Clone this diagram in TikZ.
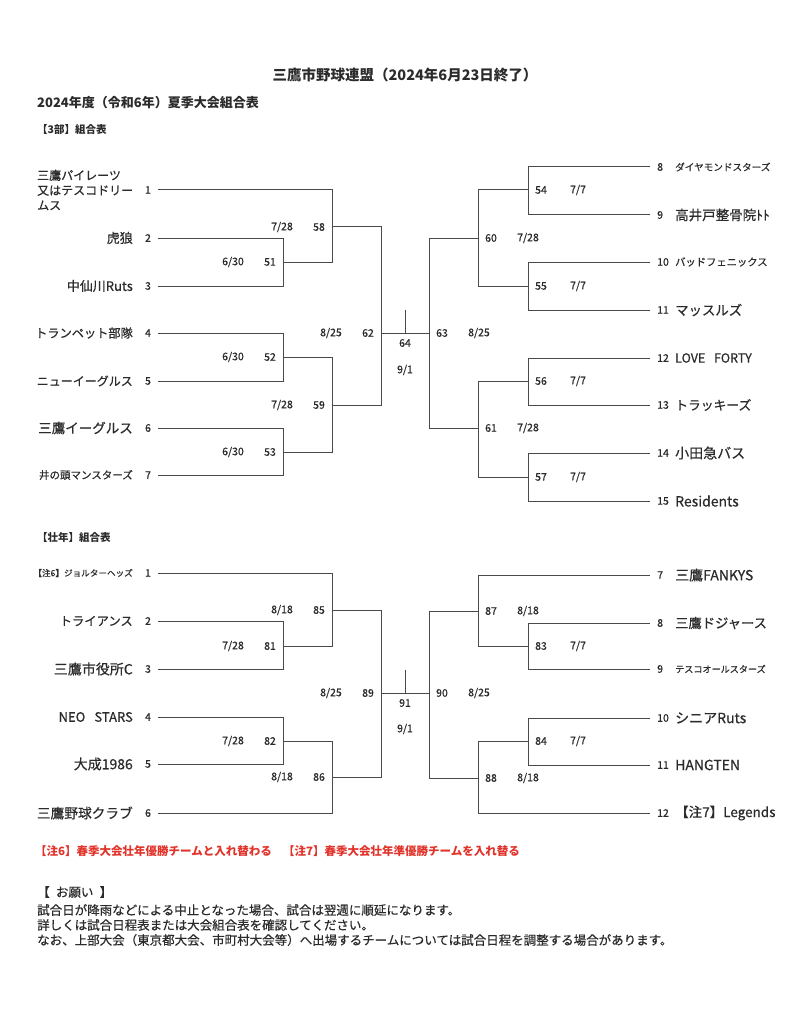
\documentclass[tikz,border=0pt]{standalone}
\usepackage{fontspec}
\setmainfont{Noto Sans CJK JP}
\newfontfamily\medfont{Noto Sans CJK JP}[FakeBold=0.5]
\usetikzlibrary{positioning}

\definecolor{inkgray}{HTML}{2B2B2B}
\definecolor{linegray}{HTML}{4A4A4A}
\definecolor{notered}{HTML}{E2332B}

\tikzset{
    num/.style={font=\medfont\fontsize{10.5}{10.5}\selectfont, inner sep=0pt, text=inkgray},
    lbl/.style={font=\medfont\fontsize{10.5}{10.5}\selectfont, inner sep=0pt, text=inkgray},
    team/.style={inner sep=0pt, text=inkgray},
    bracket/.style={draw=linegray, line width=1pt},
    head/.style={inner sep=0pt, text=inkgray, anchor=west},
}

\begin{document}
\begin{tikzpicture}[x=1pt,y=-1pt]
    \fill[white] (0,0) rectangle (786,1024);
    \useasboundingbox (0,0) rectangle (786,1024);

    % headings
    \node[team, font=\fontsize{14.5}{14.5}\selectfont\bfseries] (title) at (405,75) {三鷹市野球連盟（2024年6月23日終了）};
    \node[head, font=\fontsize{13}{13}\selectfont\bfseries] (season) at (37,103) {2024年度（令和6年）夏季大会組合表};
    \node[head, font=\fontsize{10.5}{10.5}\selectfont\bfseries] (div3) at (37,130) {【3部】組合表};
    \node[head, font=\fontsize{10.5}{10.5}\selectfont\bfseries] (divS) at (37,537) {【壮年】組合表};

    % 3部 left teams
    \node[num] (a1) at (148,190) {1};
    \node[team, anchor=west, align=left, font=\medfont\fontsize{12}{15}\selectfont] (an1) at (37,190) {三鷹パイレーツ\\又はテスコドリー\\ムス};
    \coordinate (at1) at (158,190);
    \foreach \i/\y/\sz/\name in {2/238/13/虎狼, 3/286/13/中仙川Ruts, 4/333/12.2/トランペット部隊,
            5/381/12/ニューイーグルス, 6/428/13.5/三鷹イーグルス, 7/475/10.5/井の頭マンスターズ}{%
        \node[num] (a\i) at (148,\y) {\i};
        \node[team, anchor=east, font=\medfont\fontsize{\sz}{\sz}\selectfont] (an\i) at (133,\y) {\name};
        \coordinate (at\i) at (158,\y);
    }

    % 3部 right teams
    \foreach \i/\y/\sz/\name in {8/167/9.6/ダイヤモンドスターズ, 9/215/13.5/高井戸整骨院ﾄﾄ, 10/262/10.3/バッドフェニックス,
            11/310/13.4/マッスルズ, 12/358/12.5/LOVE\hspace{.7em}FORTY, 13/405/12.8/トラッキーズ,
            14/453/14/小田急バス, 15/501/14/Residents}{%
        \node[num, anchor=west] (b\i) at (657,\y) {\i};
        \node[team, anchor=west, font=\medfont\fontsize{\sz}{\sz}\selectfont] (bn\i) at (675,\y) {\name};
        \coordinate (bt\i) at (650,\y);
    }

    % 壮年 left teams
    \foreach \i/\y/\sz/\name in {1/573/8.6/【注6】ジョルターヘッズ, 2/621/12.3/トライアンス, 3/669/14/三鷹市役所C,
            4/717/13/NEO\hspace{.7em}STARS, 5/764/14/大成1986, 6/813/13.7/三鷹野球クラブ}{%
        \node[num] (c\i) at (148,\y) {\i};
        \node[team, anchor=east, font=\medfont\fontsize{\sz}{\sz}\selectfont] (cn\i) at (133,\y) {\name};
        \coordinate (ct\i) at (158,\y);
    }

    % 壮年 right teams
    \foreach \i/\y/\sz/\name in {7/575/14/三鷹FANKYS, 8/623/13.3/三鷹ドジャース, 9/669/9.1/テスコオールスターズ,
            10/718/14/シニアRuts, 11/765/14/HANGTEN, 12/813/13.5/【注7】Legends}{%
        \node[num, anchor=west] (e\i) at (657,\y) {\i};
        \node[team, anchor=west, font=\medfont\fontsize{\sz}{\sz}\selectfont] (en\i) at (675,\y) {\name};
        \coordinate (et\i) at (650,\y);
    }

    % match points, labels left of the line
    \foreach \m/\x/\y/\d in {51/283/262/{6/30}, 52/283/357/{6/30}, 53/283/452/{6/30},
            58/332/227/{7/28}, 59/332/405/{7/28}, 62/381/333/{8/25},
            81/283/646/{7/28}, 82/283/741/{7/28}, 85/332/610/{8/18},
            86/332/777/{8/18}, 89/381/693/{8/25}}{%
        \coordinate (m\m) at (\x,\y);
        \node[lbl] (l\m) at ([xshift=-13pt]m\m) {\m};
        \node[lbl] (d\m) at ([xshift=-50pt]m\m) {\d};
    }

    % match points, labels right of the line
    \foreach \m/\x/\y/\d in {63/429/333/{8/25}, 60/478/238/{7/28}, 61/478/428/{7/28},
            54/528/190/{7/7}, 55/528/286/{7/7}, 56/528/381/{7/7}, 57/528/477/{7/7},
            90/429/693/{8/25}, 87/478/611/{8/18}, 88/478/778/{8/18},
            83/528/646/{7/7}, 84/528/741/{7/7}}{%
        \coordinate (m\m) at (\x,\y);
        \node[lbl] (l\m) at ([xshift=13pt]m\m) {\m};
        \node[lbl] (d\m) at ([xshift=50pt]m\m) {\d};
    }

    % finals
    \coordinate (f64) at (405,333);
    \node[lbl] (l64) at (405,343) {64};
    \node[lbl] (d64) at (405,370) {9/1};
    \coordinate (f91) at (405,693);
    \node[lbl] (l91) at (405,703) {91};
    \node[lbl] (d91) at (405,729) {9/1};

    \begin{scope}[bracket]
        % 3部
        \draw (at1) -| (m58);
        \draw (at2) -| (m51);  \draw (at3) -| (m51);
        \draw (at4) -| (m52);  \draw (at5) -| (m52);
        \draw (at6) -| (m53);  \draw (at7) -| (m53);
        \draw (m51) -| (m58);
        \draw (m52) -| (m59);  \draw (m53) -| (m59);
        \draw (m58) -| (m62);  \draw (m59) -| (m62);
        \draw (m62) -- (m63);
        \draw (f64) -- ++(0,-23);
        \draw (m60) -| (m63);  \draw (m61) -| (m63);
        \draw (m54) -| (m60);  \draw (m55) -| (m60);
        \draw (m56) -| (m61);  \draw (m57) -| (m61);
        \draw (bt8) -| (m54);  \draw (bt9) -| (m54);
        \draw (bt10) -| (m55); \draw (bt11) -| (m55);
        \draw (bt12) -| (m56); \draw (bt13) -| (m56);
        \draw (bt14) -| (m57); \draw (bt15) -| (m57);

        % 壮年
        \draw (ct1) -| (m85);
        \draw (ct2) -| (m81);  \draw (ct3) -| (m81);
        \draw (m81) -| (m85);
        \draw (ct4) -| (m82);  \draw (ct5) -| (m82);
        \draw (m82) -| (m86);  \draw (ct6) -| (m86);
        \draw (m85) -| (m89);  \draw (m86) -| (m89);
        \draw (m89) -- (m90);
        \draw (f91) -- ++(0,-23);
        \draw (m87) -| (m90);  \draw (m88) -| (m90);
        \draw (et7) -| (m87);  \draw (m83) -| (m87);
        \draw (et8) -| (m83);  \draw (et9) -| (m83);
        \draw (m84) -| (m88);  \draw (et12) -| (m88);
        \draw (et10) -| (m84); \draw (et11) -| (m84);
    \end{scope}

    % notes
    \begin{scope}[font=\fontsize{11.5}{11.5}\selectfont\bfseries]
        \node[head, text=notered] (note6) at (35,851) {【注6】春季大会壮年優勝チームと入れ替わる};
        \node[head, text=notered] (note7) at (283,851) {【注7】春季大会壮年準優勝チームを入れ替る};
    \end{scope}
    \begin{scope}[font=\medfont\fontsize{12.5}{12.5}\selectfont]
        \node[head] (plea) at (37,892) {【\hspace{.5em}お願い\hspace{.5em}】};
        \node[head] (rain) at (37,910) {試合日が降雨などによる中止となった場合、試合は翌週に順延になります。};
        \node[head] (sched) at (37,925) {詳しくは試合日程表または大会組合表を確認してください。};
        \node[head] (upper) at (37,940) {なお、上部大会（東京都大会、市町村大会等）へ出場するチームについては試合日程を調整する場合があります。};
    \end{scope}

\end{tikzpicture}
\end{document}
